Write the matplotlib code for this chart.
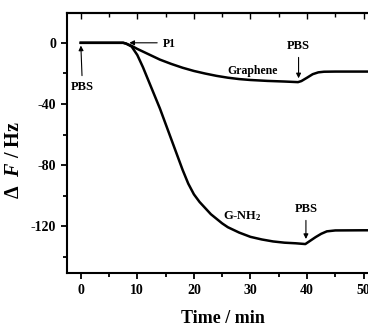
import matplotlib.pyplot as plt
from matplotlib.ticker import MultipleLocator

# frequency shift vs time
t_gr = [0, 2, 4, 6, 7.5, 8, 9, 10, 12, 14, 16, 18, 20, 22, 24, 26, 28, 30, 33, 36,
        38.4, 39, 40, 41, 42, 43, 45, 50, 55]
f_gr = [0, 0, 0, 0, 0, -0.5, -2, -4, -7.5, -11, -13.8, -16.3, -18.4, -20.1, -21.6,
        -22.8, -23.7, -24.3, -24.9, -25.3, -25.7, -25, -22.8, -20.5, -19.3, -18.9,
        -18.8, -18.8, -18.8]

t_nh2 = [0, 2, 4, 6, 7.5, 8, 9, 10, 11, 12, 13, 14, 15, 16, 17, 18, 19, 20, 21, 22,
         23, 24, 25, 26, 28, 30, 32, 34, 36, 38, 39.7, 40.5, 41.5, 42.5, 43.5, 45, 50, 55]
f_nh2 = [0, 0, 0, 0, 0, -0.5, -2.5, -8, -16, -25, -34, -43, -53, -63, -73, -83, -92,
         -99, -104, -108, -112, -115, -118, -120.5, -124, -126.8, -128.5, -129.8,
         -130.6, -131, -131.5, -129.5, -127, -124.8, -123.2, -122.6, -122.5, -122.5]

plt.rcParams['font.family'] = ['Liberation Serif', 'DejaVu Serif']
plt.rcParams['font.weight'] = 'bold'
plt.rcParams['axes.unicode_minus'] = False
plt.rcParams['mathtext.fontset'] = 'custom'
plt.rcParams['mathtext.rm'] = 'Liberation Serif:bold'
plt.rcParams['mathtext.it'] = 'Liberation Serif:bold:italic'
plt.rcParams['mathtext.bf'] = 'Liberation Serif:bold'

fig = plt.figure(figsize=(3.68, 3.24), dpi=100)
ax = fig.add_axes([0.181, 0.157, 0.884, 0.803])

ax.plot(t_gr, f_gr, color='black', lw=1.8)
ax.plot(t_nh2, f_nh2, color='black', lw=1.8)

ax.set_xlim(-2.5, 55)
ax.set_ylim(-150.5, 19.5)
ax.xaxis.set_major_locator(MultipleLocator(10))
ax.xaxis.set_minor_locator(MultipleLocator(5))
ax.yaxis.set_major_locator(MultipleLocator(40))
ax.yaxis.set_minor_locator(MultipleLocator(20))
ax.tick_params(which='both', direction='out', width=1.3, labelsize=10)
ax.tick_params(which='major', length=4)
ax.tick_params(which='minor', length=3)
for s in ax.spines.values():
    s.set_linewidth(1.5)

# inward ticks on the top edge
top = ax.secondary_xaxis('top')
top.xaxis.set_major_locator(MultipleLocator(10))
top.xaxis.set_minor_locator(MultipleLocator(5))
top.tick_params(which='both', direction='in', width=1.0, labeltop=False)
top.tick_params(which='major', length=4)
top.tick_params(which='minor', length=3)
top.spines['top'].set_linewidth(1.5)

ax.set_xlabel('Time / min', fontsize=13, fontweight='bold')
ax.set_ylabel(r'$\Delta$  $F$ / Hz', fontsize=14.5, fontweight='bold')
ax.xaxis.set_label_coords(0.48, -0.14)
ax.yaxis.set_label_coords(-0.13, 0.435)

arr = dict(arrowstyle='-|>', color='black', lw=0.8, mutation_scale=7)
ax.annotate('PBS', xy=(0, 0), xytext=(0.3, -29), ha='center', va='center',
            fontsize=9, fontweight='bold', arrowprops=arr)
ax.annotate('', xy=(8.1, 0), xytext=(14, 0), arrowprops=arr)
ax.text(14.5, -0.5, 'P1', fontsize=8.5, fontweight='bold', va='center')
ax.annotate('PBS', xy=(38.5, -25), xytext=(38.5, -2), ha='center', va='center',
            fontsize=9, fontweight='bold', arrowprops=arr)
ax.annotate('PBS', xy=(39.8, -130), xytext=(39.8, -108.5), ha='center', va='center',
            fontsize=9, fontweight='bold', arrowprops=arr)
ax.text(30.3, -18.3, 'Graphene', fontsize=8.5, fontweight='bold', ha='center', va='center')
ax.text(28.5, -113, r'G-NH$_2$', fontsize=9, fontweight='bold', ha='center', va='center')

fig.savefig('out.png', dpi=100)
